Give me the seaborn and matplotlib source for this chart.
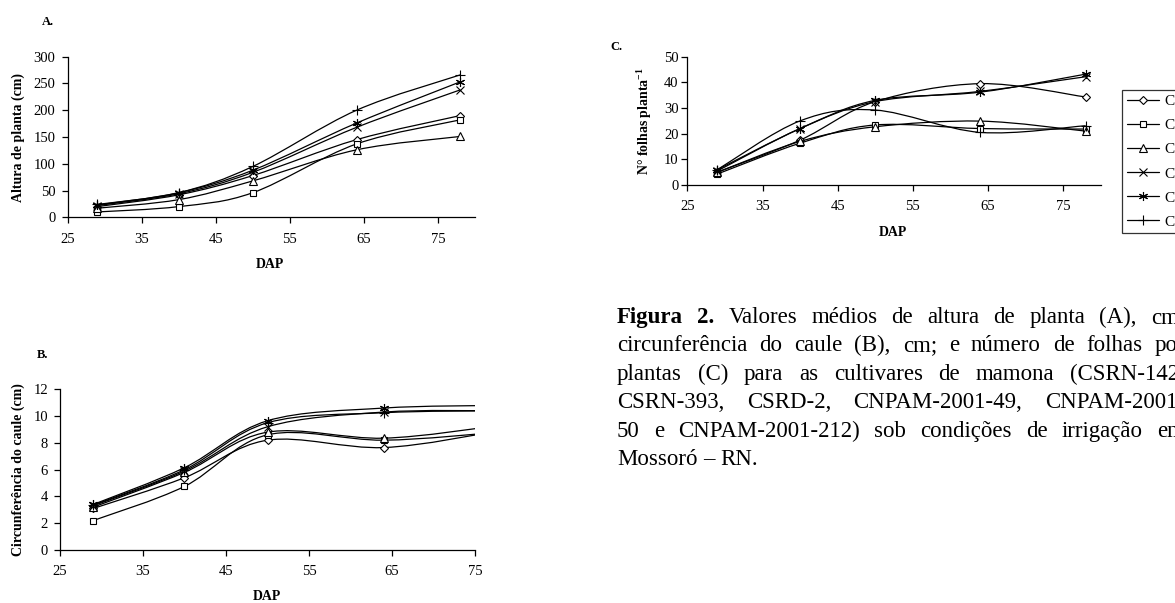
import numpy as np
import pandas as pd
import matplotlib
matplotlib.use("Agg")
import matplotlib.pyplot as plt
import seaborn as sns
from matplotlib.path import Path
from matplotlib.patches import PathPatch
from matplotlib.lines import Line2D
from matplotlib.transforms import IdentityTransform

# ---------------- data ----------------
cultivars = ["CSRN-142", "CSRN-393", "CSRD-2", "CNPAM-2001-49", "CNPAM-2001-50", "CNPAM-2001-212"]
dap = [29, 40, 50, 64, 78]

# A. Altura de planta (cm)
altura_csrn142 = [20, 42, 78, 145, 190]
altura_csrn393 = [10, 20, 46, 137, 182]
altura_csrd2 = [17, 33, 68, 126, 151]
altura_cnpam49 = [22, 44, 84, 168, 238]
altura_cnpam50 = [23, 46, 88, 176, 253]
altura_cnpam212 = [24, 46, 95, 200, 266]

# B. Circunferencia do caule (cm)
circ_csrn142 = [3.1, 5.4, 8.2, 7.65, 8.9]
circ_csrn393 = [2.2, 4.75, 8.6, 8.2, 8.8]
circ_csrd2 = [3.2, 5.8, 8.8, 8.35, 9.3]
circ_cnpam49 = [3.3, 5.9, 9.2, 10.3, 10.4]
circ_cnpam50 = [3.4, 6.15, 9.65, 10.6, 10.8]
circ_cnpam212 = [3.35, 6.0, 9.5, 10.25, 10.4]

# C. Numero de folhas por planta
folhas_csrn142 = [5, 17.5, 32.5, 39.5, 34.3]
folhas_csrn393 = [4.3, 16.3, 23.4, 22, 21.8]
folhas_csrd2 = [5, 17, 22.7, 24.9, 21]
folhas_cnpam49 = [5.5, 22, 32.5, 36.5, 42.2]
folhas_cnpam50 = [6, 22, 33, 36.2, 43.2]
folhas_cnpam212 = [6, 25, 29.2, 20.5, 23.1]

x_ticks = [25, 35, 45, 55, 65, 75]
altura_ticks = [0, 50, 100, 150, 200, 250, 300]
circ_ticks = [0, 2, 4, 6, 8, 10, 12]
folhas_ticks = [0, 10, 20, 30, 40, 50]

caption_lines = [
    "Figura 2. Valores médios de altura de planta (A), cm;",
    "circunferência do caule (B), cm; e número de folhas por",
    "plantas (C) para as cultivares de mamona (CSRN-142,",
    "CSRN-393, CSRD-2, CNPAM-2001-49, CNPAM-2001-",
    "50 e CNPAM-2001-212) sob condições de irrigação em",
    "Mossoró – RN.",
]

# ---------------- style ----------------
sns.set_style("ticks", rc={"axes.edgecolor": "black", "xtick.color": "black",
                           "ytick.color": "black", "text.color": "black",
                           "axes.labelcolor": "black"})
plt.rcParams["font.family"] = ["Liberation Serif", "DejaVu Serif"]
plt.rcParams["mathtext.fontset"] = "custom"
plt.rcParams["mathtext.rm"] = "Liberation Serif"
plt.rcParams["mathtext.bf"] = "Liberation Serif:bold"

W, H = 1175, 603
fig = plt.figure(figsize=(W / 100, H / 100), dpi=100)

asterisk = (6, 2, 0)
marker_map = {"CSRN-142": "D", "CSRN-393": "s", "CSRD-2": "^",
              "CNPAM-2001-49": "x", "CNPAM-2001-50": asterisk, "CNPAM-2001-212": "+"}
msize = {"CSRN-142": 4.5, "CSRN-393": 5, "CSRD-2": 5.5,
         "CNPAM-2001-49": 6, "CNPAM-2001-50": 6.5, "CNPAM-2001-212": 7}


def rect(left, top, right, bottom):
    return [left / W, 1 - bottom / H, (right - left) / W, (bottom - top) / H]


def smooth_path(x, y):
    pts = np.column_stack([x, y]).astype(float)
    n = len(pts)
    verts = [pts[0]]
    codes = [Path.MOVETO]
    for i in range(n - 1):
        p0 = pts[i - 1] if i > 0 else pts[i]
        p1 = pts[i]
        p2 = pts[i + 1]
        p3 = pts[i + 2] if i + 2 < n else pts[i + 1]
        verts += [p1 + (p2 - p0) / 6, p2 - (p3 - p1) / 6, p2]
        codes += [Path.CURVE4] * 3
    return Path(verts, codes)


def draw_panel(ax, series, xlim, ylim, yticks, xpad, ypad):
    df = pd.DataFrame({
        "DAP": np.tile(dap, len(cultivars)),
        "valor": np.concatenate(series),
        "cultivar": np.repeat(cultivars, len(dap)),
    })
    for cv in cultivars:
        sub = df[df["cultivar"] == cv]
        patch = PathPatch(smooth_path(sub["DAP"].values, sub["valor"].values),
                          facecolor="none", edgecolor="black", lw=0.9, zorder=2)
        ax.add_patch(patch)
        sns.lineplot(data=sub, x="DAP", y="valor", ax=ax, estimator=None,
                     errorbar=None, linestyle="none", marker=marker_map[cv],
                     markersize=msize[cv], color="black", mfc="white",
                     mec="black", mew=0.8, legend=False, zorder=3)
    ax.set_xlim(*xlim)
    ax.set_ylim(*ylim)
    ax.set_xticks(x_ticks)
    ax.set_yticks(yticks)
    ax.set_xlabel("")
    ax.set_ylabel("")
    sns.despine(ax=ax)
    for s in ("left", "bottom"):
        ax.spines[s].set_linewidth(0.9)
    ax.tick_params(axis="both", direction="out", length=4.3, width=0.9, labelsize=10.5)
    ax.tick_params(axis="x", pad=xpad)
    ax.tick_params(axis="y", pad=ypad)


# Panel A
axA = fig.add_axes(rect(67.7, 56.7, 475, 217.3))
draw_panel(axA, [altura_csrn142, altura_csrn393, altura_csrd2,
                 altura_cnpam49, altura_cnpam50, altura_cnpam212],
           (25, 80), (0, 300), altura_ticks, 7.2, 4.5)

# Panel B
axB = fig.add_axes(rect(60, 389.3, 475, 550))
draw_panel(axB, [circ_csrn142, circ_csrn393, circ_csrd2,
                 circ_cnpam49, circ_cnpam50, circ_cnpam212],
           (25, 75), (0, 12), circ_ticks, 6.3, 4.3)

# Panel C
axC = fig.add_axes(rect(687.4, 56.7, 1100.7, 185))
draw_panel(axC, [folhas_csrn142, folhas_csrn393, folhas_csrd2,
                 folhas_cnpam49, folhas_cnpam50, folhas_cnpam212],
           (25, 80), (0, 50), folhas_ticks, 6.3, 2.0)


def ftext(x, y, s, **kw):
    return fig.text(x / W, 1 - y / H, s, **kw)


lab = dict(fontsize=10, fontweight="bold")
ftext(270, 265, "DAP", ha="center", va="center", **lab)
ftext(267, 597, "DAP", ha="center", va="center", **lab)
ftext(893, 233, "DAP", ha="center", va="center", **lab)
ftext(18, 137, "Altura de planta (cm)", rotation=90, ha="center", va="center", **lab)
ftext(18, 470, "Circunferência do caule (cm)", rotation=90, ha="center", va="center", **lab)
ftext(644, 121, r"N° folhas planta$^{\mathbf{-1}}$", rotation=90, ha="center", va="center", **lab)

ftext(41.7, 21.7, "A.", ha="left", va="center", fontsize=9, fontweight="bold")
ftext(36.7, 355, "B.", ha="left", va="center", fontsize=9, fontweight="bold")
ftext(610, 47, "C.", ha="left", va="center", fontsize=9, fontweight="bold")

# Legend (panel C)
handles = [Line2D([], [], color="black", lw=0.9, marker=marker_map[cv],
                  markersize=msize[cv], mfc="white", mec="black", mew=0.8)
           for cv in cultivars]
leg = fig.legend(handles, cultivars, loc="upper left",
                 bbox_to_anchor=(1122 / W, 1 - 90 / H), bbox_transform=fig.transFigure,
                 frameon=True, fancybox=False, edgecolor="black", fontsize=11,
                 handlelength=2.15, handletextpad=0.35, borderpad=0.3,
                 labelspacing=0.68, borderaxespad=0)
leg.get_frame().set_linewidth(0.9)

# Caption (justified)
renderer = fig.canvas.get_renderer()
cap_fs = 16.5
cap_left, cap_right = 617, 1185
base0, step = 323, 28.4
space_px = 0.25 * cap_fs * 100 / 72
for i, line in enumerate(caption_lines):
    words = line.split(" ")
    texts, widths = [], []
    for j, w in enumerate(words):
        weight = "bold" if (i == 0 and j < 2) else "normal"
        t = fig.text(0, 0, w, fontsize=cap_fs, fontweight=weight, ha="left",
                     va="baseline", transform=IdentityTransform())
        texts.append(t)
        widths.append(t.get_window_extent(renderer).width)
    if i < len(caption_lines) - 1 and len(words) > 1:
        gap = (cap_right - cap_left - sum(widths)) / (len(words) - 1)
    else:
        gap = space_px
    x = cap_left
    ypix = H - (base0 + i * step)
    for t, wd in zip(texts, widths):
        t.set_position((x, ypix))
        x += wd + gap

fig.savefig("out.png", dpi=100)
